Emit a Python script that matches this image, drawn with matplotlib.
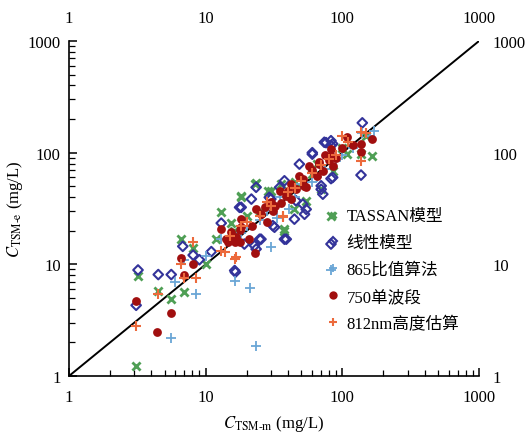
import matplotlib
matplotlib.use("Agg")
import matplotlib.pyplot as plt
from matplotlib.lines import Line2D
from matplotlib.ticker import LogLocator, NullFormatter, NullLocator

plt.rcParams['font.family'] = ['Liberation Serif', 'Noto Sans CJK SC']
plt.rcParams['mathtext.fontset'] = 'stix'

# ---- data: measured (x) vs estimated (y) TSM, mg/L ----
tassan_x = [3.1, 3.2, 4.5, 5.6, 6.6, 7.0, 8.1, 10, 12, 13, 15.4, 16, 18.2, 18.2, 20, 22.8,
            23.4, 25, 28.5, 30.1, 35.7, 37.7, 37.7, 44.6, 45, 54.4, 60, 65, 70, 82.6, 85,
            100, 109, 137, 150, 166]
tassan_y = [1.22, 7.9, 5.8, 4.9, 17.0, 5.6, 14.0, 10, 17, 29.2, 23.7, 20, 39.8, 41, 27, 52.3,
            54, 30, 45.7, 45.7, 52, 20.7, 20, 31.1, 55, 37.1, 65, 80, 47, 26.9, 69,
            110, 97, 97, 140, 94]

linear_x = [3.1, 3.2, 4.5, 5.6, 6.8, 8.1, 9, 11, 13, 16.3, 16.5, 17.7, 18.2, 19.2, 21.6,
            22.8, 23.4, 23.4, 24.8, 25.4, 29.2, 30, 31, 31.9, 34.8, 37.7, 37.7, 38.9, 44.6,
            45.8, 48.5, 51.4, 52.9, 54.4, 60.3, 60.3, 70, 70, 72, 73.8, 76, 82.6, 82.6,
            82.6, 82.6, 85, 85, 137, 140]
linear_y = [4.3, 8.9, 8.1, 8.1, 14.5, 12.1, 11, 13, 23.4, 8.8, 8.5, 32.4, 32.4, 15.2, 38.4,
            14.7, 49, 13.7, 16.8, 16.8, 39.8, 38.4, 22.2, 21.5, 49, 56, 16.8, 16.8, 25.4,
            37.1, 79, 34.6, 28.1, 31.1, 100, 97, 47, 50.5, 42.5, 124, 123, 128, 58.6,
            15.2, 116, 120, 60, 63, 185]

ratio_x = [5.6, 6, 7, 8.5, 10, 13, 16.3, 18, 20, 21, 23.2, 25, 28, 30, 33, 35, 41, 45,
           50, 60, 65, 75, 82.6, 90, 100, 120, 140, 160, 171]
ratio_y = [2.2, 7, 11, 5.4, 12, 17, 7.1, 19, 22, 6.2, 1.84, 25, 30, 14.4, 26, 40, 31, 40,
           52, 55, 60, 72, 8.9, 85, 95, 110, 150, 140, 157]

single_x = [3.1, 4.4, 5.6, 6.6, 7.0, 8.1, 13, 14.1, 14.6, 15.4, 15.4, 16.3, 16.7, 17.7,
            17.7, 18.2, 18.2, 20.9, 22, 22.8, 23.4, 25.4, 27, 28, 30, 31, 31.9, 34.8,
            35.7, 38.9, 40, 42, 42, 45.8, 48.5, 51.4, 52.6, 54.4, 57.2, 60, 65, 67.9,
            67.9, 72, 75, 80.4, 82.6, 82.6, 85.1, 90, 100, 109, 120, 137, 137, 166]
single_y = [4.7, 2.5, 3.7, 11.4, 8.0, 10.1, 20.7, 16.8, 15.7, 19.4, 16.8, 15.7, 17.4, 20.1,
            15.7, 25.4, 21.5, 16.8, 22, 12.6, 31.1, 28.1, 32.4, 24, 36, 29.9, 33.4, 45.7,
            35.8, 41, 45, 38.4, 52.3, 47, 62, 58, 50.5, 49, 76.1, 70, 62, 81.9,
            79, 69, 95, 85.2, 108, 94, 76.1, 90, 110, 137, 118, 119, 101, 133]

height_x = [3.1, 4.5, 6.6, 7.0, 8.1, 8.5, 13, 13.8, 15, 16.3, 16.7, 18, 20, 25, 28, 30,
            36.6, 36.6, 40, 45, 50, 60, 70, 80, 90, 100, 110, 137, 137, 150]
height_y = [2.8, 5.4, 10, 7.6, 15.7, 7.6, 13.2, 12.8, 18, 11.2, 11.6, 22, 24, 27, 36, 33,
            26.4, 27.2, 44, 48, 56, 66, 78, 88, 96, 140, 125, 152, 85, 150]

labels = ['TASSAN模型', '线性模型', '865比值算法', '750单波段', '812nm高度估算']

fig = plt.figure(figsize=(5.29, 4.35), dpi=100)
ax = fig.add_axes([0.1304, 0.1333, 0.7751, 0.7701])
ax.set_xscale('log')
ax.set_yscale('log')
ax.set_xlim(1, 1000)
ax.set_ylim(1, 1000)

# 1:1 line
ax.plot([1, 1000], [1, 1000], color='black', lw=1.4, zorder=1)

c_green = '#4f9f55'
c_blue = '#33339a'
c_light = '#6aa6d6'
c_red = '#a10f0f'
c_orange = '#ec6a3c'

ax.scatter(tassan_x, tassan_y, marker='x', s=34, color=c_green, linewidths=2.0, zorder=2)
ax.scatter(linear_x, linear_y, marker='D', s=24, facecolors='none', edgecolors=c_blue,
           linewidths=1.5, zorder=3)
ax.scatter(ratio_x, ratio_y, marker='+', s=55, color=c_light, linewidths=1.3, zorder=3)
ax.scatter(single_x, single_y, marker='o', s=40, color=c_red, linewidths=0, zorder=4)
ax.scatter(height_x, height_y, marker='+', s=55, color=c_orange, linewidths=1.5, zorder=5)

for side in ('top', 'right'):
    ax.spines[side].set_visible(False)
for side in ('left', 'bottom'):
    ax.spines[side].set_linewidth(1.2)

ax.set_xticks([1, 10, 100, 1000], ['1', '10', '100', '1000'])
ax.set_yticks([1, 10, 100, 1000], ['1', '10', '100', '1000'])
ax.xaxis.set_minor_locator(LogLocator(base=10, subs=range(2, 10)))
ax.yaxis.set_minor_locator(LogLocator(base=10, subs=range(2, 10)))
ax.xaxis.set_minor_formatter(NullFormatter())
ax.yaxis.set_minor_formatter(NullFormatter())
ax.tick_params(which='major', direction='in', length=6, width=1.1, labelsize=12)
ax.tick_params(which='minor', direction='in', length=4, width=0.9)
ax.tick_params(axis='x', pad=9)
ax.tick_params(axis='y', pad=6)

# plain labels along the top and right edges
secx = ax.secondary_xaxis('top')
secx.set_xticks([1, 10, 100, 1000], ['1', '10', '100', '1000'])
secx.xaxis.set_minor_locator(NullLocator())
secx.tick_params(length=0, pad=11, labelsize=12)
secx.spines['top'].set_visible(False)

secy = ax.secondary_yaxis('right')
secy.set_yticks([1, 10, 100, 1000], ['1', '10', '100', '1000'])
secy.yaxis.set_minor_locator(NullLocator())
secy.tick_params(length=0, pad=10, labelsize=12)
secy.spines['right'].set_visible(False)

ax.set_xlabel(r'$C_{\mathrm{TSM\text{-}m}}$ (mg/L)', fontsize=12, labelpad=6)
ax.set_ylabel(r'$C_{\mathrm{TSM\text{-}e}}$ (mg/L)', fontsize=12, labelpad=2)

handles = [
    Line2D([], [], ls='none', marker='x', ms=5, mew=2.0, color=c_green),
    Line2D([], [], ls='none', marker='D', ms=4.5, mew=1.5, mfc='none', mec=c_blue),
    Line2D([], [], ls='none', marker='+', ms=6, mew=1.3, color=c_light),
    Line2D([], [], ls='none', marker='o', ms=6, mew=0, color=c_red),
    Line2D([], [], ls='none', marker='+', ms=6, mew=1.5, color=c_orange),
]
fig.legend(handles, labels, loc='upper left', bbox_to_anchor=(0.592, 0.553),
           frameon=False, handlelength=0.6, handletextpad=0.5, labelspacing=0.65,
           prop={'family': ['Liberation Serif', 'Noto Sans CJK SC'], 'size': 12})

fig.savefig('out.png', dpi=100)
